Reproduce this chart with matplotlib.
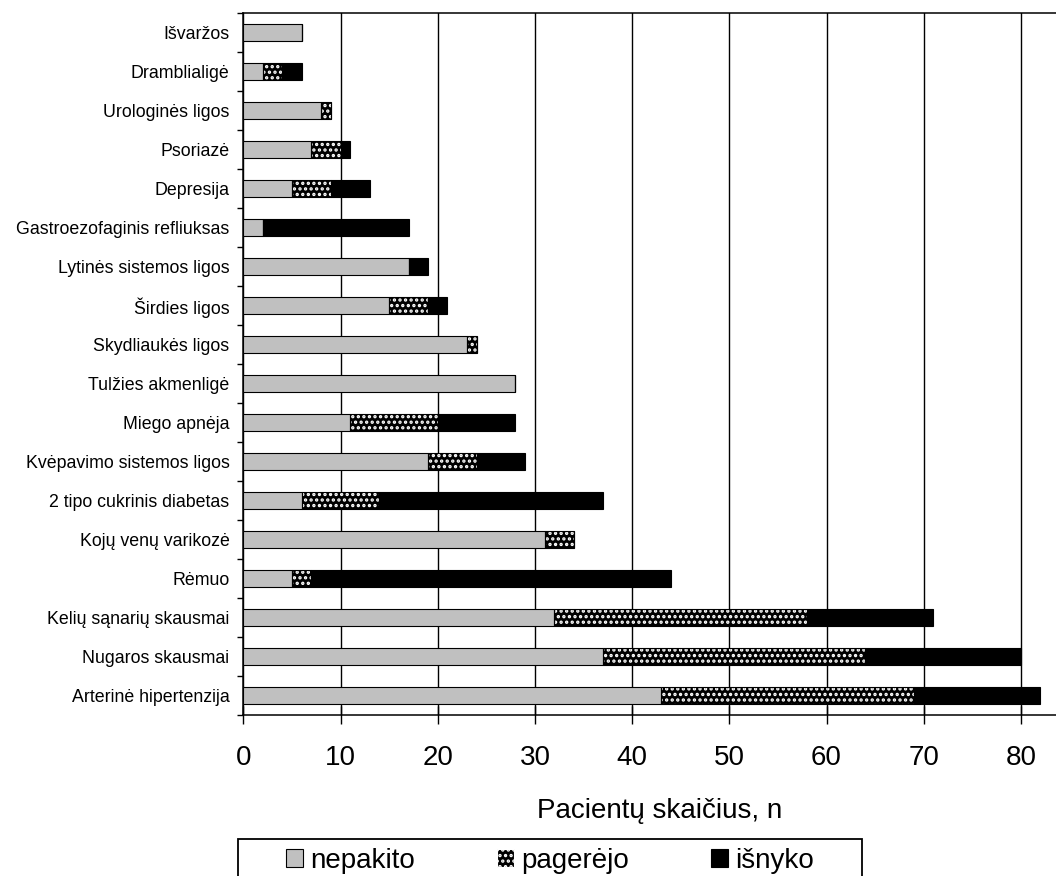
import matplotlib
matplotlib.use("Agg")
import matplotlib.pyplot as plt
from matplotlib.patches import Patch, Rectangle
from matplotlib.ticker import FixedLocator

plt.rcParams["font.family"] = ["Liberation Sans", "DejaVu Sans"]
plt.rcParams["hatch.linewidth"] = 1.6

# ligos, nuo apačios į viršų
ligos = [
    "Arterinė hipertenzija", "Nugaros skausmai", "Kelių sąnarių skausmai",
    "Rėmuo", "Kojų venų varikozė", "2 tipo cukrinis diabetas",
    "Kvėpavimo sistemos ligos", "Miego apnėja", "Tulžies akmenligė",
    "Skydliaukės ligos", "Širdies ligos", "Lytinės sistemos ligos",
    "Gastroezofaginis refliuksas", "Depresija", "Psoriazė",
    "Urologinės ligos", "Dramblialigė", "Išvaržos",
]
nepakito = [43, 37, 32, 5, 31, 6, 19, 11, 28, 23, 15, 17, 2, 5, 7, 8, 2, 6]
pagerejo = [26, 27, 26, 2, 3, 8, 5, 9, 0, 1, 4, 0, 0, 4, 3, 1, 2, 0]
isnyko = [13, 16, 13, 37, 0, 23, 5, 8, 0, 0, 2, 2, 15, 4, 1, 0, 2, 0]
x_ticks = list(range(0, 81, 10))

W, H = 1056, 876
fig = plt.figure(figsize=(W / 100, H / 100), dpi=100)
x0, x1 = 243.3, 243.3 + 85 * 9.72
y_top, y_bot = 13, 715
ax = fig.add_axes([x0 / W, 1 - y_bot / H, (x1 - x0) / W, (y_bot - y_top) / H])

y = list(range(len(ligos)))
h = 0.43
left2 = list(nepakito)
left3 = [a + b for a, b in zip(nepakito, pagerejo)]

ax.barh(y, nepakito, height=h, color="#c0c0c0", edgecolor="black", linewidth=0.8, zorder=3)
ax.barh(y, pagerejo, left=left2, height=h, color="black", edgecolor="white",
        hatch="...", linewidth=0, zorder=3)
ax.barh(y, pagerejo, left=left2, height=h, fill=False, edgecolor="black",
        linewidth=0.8, zorder=4)
ax.barh(y, isnyko, left=left3, height=h, color="black", edgecolor="black",
        linewidth=0.8, zorder=3)

ax.set_xlim(0, 85)
ax.set_ylim(-0.5, len(ligos) - 0.5)
ax.set_xticks(x_ticks)
ax.set_yticks(y)
ax.set_yticklabels(ligos, fontsize=12.8)
ax.yaxis.set_minor_locator(FixedLocator([i - 0.5 for i in range(len(ligos) + 1)]))
ax.tick_params(axis="y", which="major", length=0, pad=10)
ax.tick_params(axis="y", which="minor", length=4, width=1.0, direction="out")
ax.tick_params(axis="x", which="major", length=13.5, width=1.0, direction="inout",
               labelsize=20, pad=15)
ax.grid(axis="x", color="black", linewidth=1.0, zorder=1)
ax.set_axisbelow(True)

for side in ["top", "left", "bottom"]:
    ax.spines[side].set_linewidth(1.1)
ax.spines["right"].set_visible(False)

ax.set_xlabel("Pacientų skaičius, n", fontsize=20)
ax.xaxis.set_label_coords((660 - x0) / (x1 - x0), -0.118)

handles = [
    Patch(facecolor="#c0c0c0", edgecolor="black", linewidth=0.8),
    Patch(facecolor="black", edgecolor="white", hatch="...", linewidth=0.8),
    Patch(facecolor="black", edgecolor="black", linewidth=0.8),
]
fig.legend(handles, ["nepakito", "pagerėjo", "išnyko"], loc="center",
           bbox_to_anchor=(550 / W, 1 - 861 / H), ncol=3, frameon=False,
           fontsize=20, handlelength=0.62, handleheight=0.62,
           handletextpad=0.25, columnspacing=2.95, borderpad=0)
fig.patches.append(Rectangle((238 / W, 1 - 900 / H), (862 - 238) / W, (900 - 839) / H,
                             transform=fig.transFigure, fill=False,
                             edgecolor="black", linewidth=1.3))

fig.savefig("out.png", dpi=100)
